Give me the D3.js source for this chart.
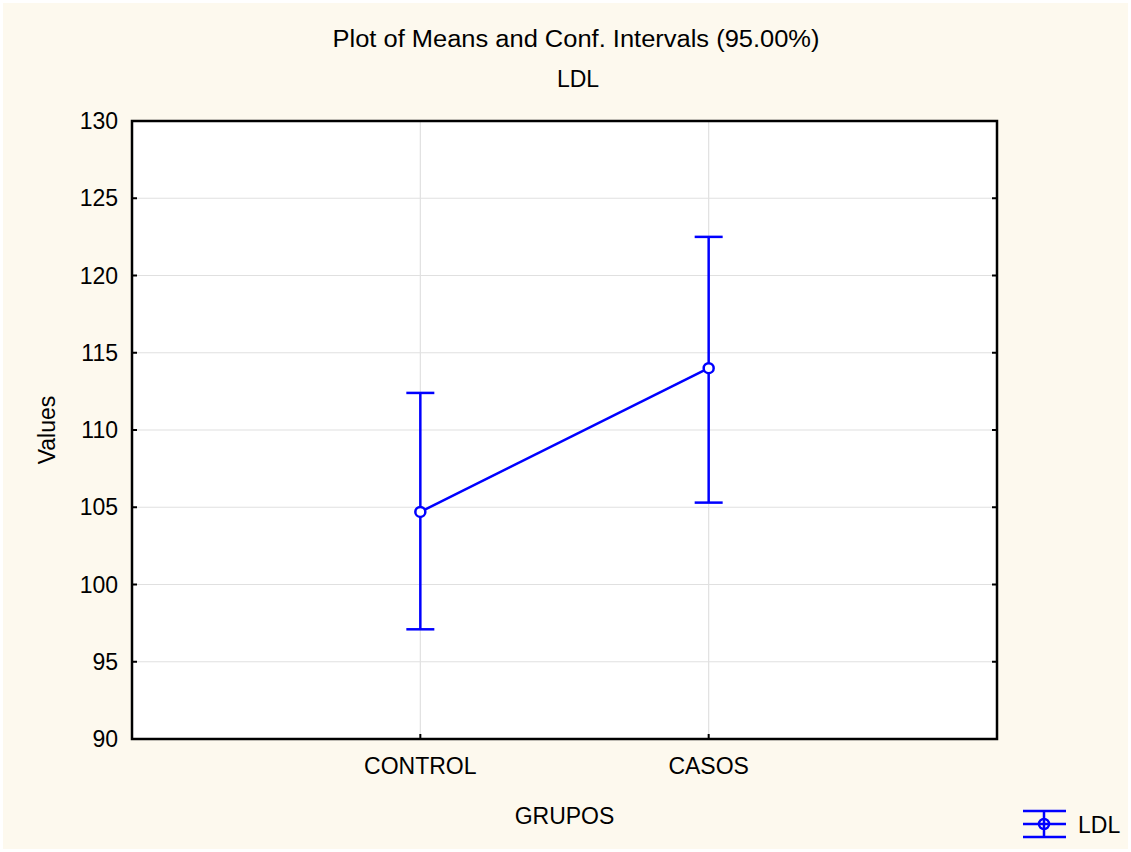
<!DOCTYPE html>
<html>
<head>
<meta charset="utf-8">
<script src="https://cdn.jsdelivr.net/npm/d3@7"></script>
<style>
  body { margin: 0; background: #ffffff; }
  text { font-family: "Liberation Sans", Arial, sans-serif; fill: #000; }
</style>
</head>
<body>
<svg id="chart" width="1131" height="852"></svg>
<script>
// data
let groups = ["CONTROL", "CASOS"];
let means = [104.7, 114.0];
let lower = [97.1, 105.3];
let upper = [112.4, 122.5];
let yTicks = [90, 95, 100, 105, 110, 115, 120, 125, 130];

let blue = "#0000ff";
let bg = "#fdf9ee";
let fs = "23px";
let margin = { left: 132, top: 121, right: 997, bottom: 739 };

let svg = d3.select("#chart");

svg.append("rect")
  .attr("x", 3).attr("y", 3)
  .attr("width", 1125).attr("height", 846)
  .style("fill", bg);

let xScale = d3.scalePoint()
  .domain(groups)
  .range([margin.left, margin.right])
  .padding(1);

let yScale = d3.scaleLinear()
  .domain([90, 130])
  .range([margin.bottom, margin.top]);

// plot area
svg.append("rect")
  .attr("x", margin.left).attr("y", margin.top)
  .attr("width", margin.right - margin.left)
  .attr("height", margin.bottom - margin.top)
  .style("fill", "#ffffff");

// grid
svg.selectAll(".hgrid")
  .data(yTicks)
  .enter()
  .append("line")
    .attr("x1", margin.left).attr("x2", margin.right)
    .attr("y1", d => yScale(d)).attr("y2", d => yScale(d))
    .style("stroke", "#e0e0e0").style("stroke-width", 1.2);
svg.selectAll(".vgrid")
  .data(groups)
  .enter()
  .append("line")
    .attr("x1", d => xScale(d)).attr("x2", d => xScale(d))
    .attr("y1", margin.top).attr("y2", margin.bottom)
    .style("stroke", "#e0e0e0").style("stroke-width", 1.2);

// inward ticks on left and right
svg.selectAll(".ltick")
  .data(yTicks)
  .enter()
  .append("line")
    .attr("x1", margin.left).attr("x2", margin.left + 5)
    .attr("y1", d => yScale(d)).attr("y2", d => yScale(d))
    .style("stroke", "#000").style("stroke-width", 2);
svg.selectAll(".rtick")
  .data(yTicks)
  .enter()
  .append("line")
    .attr("x1", margin.right - 5).attr("x2", margin.right)
    .attr("y1", d => yScale(d)).attr("y2", d => yScale(d))
    .style("stroke", "#000").style("stroke-width", 2);
svg.selectAll(".btick")
  .data(groups)
  .enter()
  .append("line")
    .attr("x1", d => xScale(d)).attr("x2", d => xScale(d))
    .attr("y1", margin.bottom).attr("y2", margin.bottom - 5)
    .style("stroke", "#000").style("stroke-width", 2);

// frame
svg.append("rect")
  .attr("x", margin.left).attr("y", margin.top)
  .attr("width", margin.right - margin.left)
  .attr("height", margin.bottom - margin.top)
  .style("fill", "none")
  .style("stroke", "#000")
  .style("stroke-width", 2.5);

// tick labels
svg.selectAll(".ylab")
  .data(yTicks)
  .enter()
  .append("text")
    .attr("x", margin.left - 14)
    .attr("y", d => yScale(d) + 8)
    .text(d => d)
    .style("font-size", fs)
    .style("text-anchor", "end");
svg.selectAll(".xlab")
  .data(groups)
  .enter()
  .append("text")
    .attr("x", d => xScale(d))
    .attr("y", 774)
    .text(d => d)
    .style("font-size", fs)
    .style("text-anchor", "middle");

// error bars
groups.forEach((g, i) => {
  let x = xScale(g);
  svg.append("line")
    .attr("x1", x).attr("x2", x)
    .attr("y1", yScale(lower[i])).attr("y2", yScale(upper[i]))
    .style("stroke", blue).style("stroke-width", 2.5);
  [lower[i], upper[i]].forEach(v => {
    svg.append("line")
      .attr("x1", x - 14).attr("x2", x + 14)
      .attr("y1", yScale(v)).attr("y2", yScale(v))
      .style("stroke", blue).style("stroke-width", 2.5);
  });
});

// means line + markers
let line = d3.line()
  .x((d, i) => xScale(groups[i]))
  .y(d => yScale(d));
svg.append("path")
  .attr("d", line(means))
  .style("fill", "none")
  .style("stroke", blue)
  .style("stroke-width", 2.5);
svg.selectAll(".mean")
  .data(means)
  .enter()
  .append("circle")
    .attr("cx", (d, i) => xScale(groups[i]))
    .attr("cy", d => yScale(d))
    .attr("r", 5)
    .style("fill", "#ffffff")
    .style("stroke", blue)
    .style("stroke-width", 2.5);

// titles
svg.append("text")
  .attr("x", 576).attr("y", 47)
  .attr("textLength", 487)
  .attr("lengthAdjust", "spacingAndGlyphs")
  .text("Plot of Means and Conf. Intervals (95.00%)")
  .style("font-size", fs)
  .style("text-anchor", "middle");
svg.append("text")
  .attr("x", 578).attr("y", 87)
  .text("LDL")
  .style("font-size", fs)
  .style("text-anchor", "middle");
svg.append("text")
  .attr("x", (margin.left + margin.right) / 2).attr("y", 824)
  .text("GRUPOS")
  .style("font-size", fs)
  .style("text-anchor", "middle");
svg.append("text")
  .attr("transform", "translate(55,430) rotate(-90)")
  .text("Values")
  .style("font-size", fs)
  .style("text-anchor", "middle");

// legend
let lg = svg.append("g").attr("transform", "translate(1044,824)");
[-13, 0, 13].forEach(dy => {
  lg.append("line")
    .attr("x1", -21).attr("x2", 22)
    .attr("y1", dy).attr("y2", dy)
    .style("stroke", blue).style("stroke-width", 2.5);
});
lg.append("line")
  .attr("x1", 0).attr("x2", 0).attr("y1", -13).attr("y2", 13)
  .style("stroke", blue).style("stroke-width", 2.5);
lg.append("circle")
  .attr("r", 5)
  .style("fill", "none")
  .style("stroke", blue)
  .style("stroke-width", 2.5);
svg.append("text")
  .attr("x", 1078).attr("y", 833)
  .text("LDL")
  .style("font-size", fs);
</script>
</body>
</html>
